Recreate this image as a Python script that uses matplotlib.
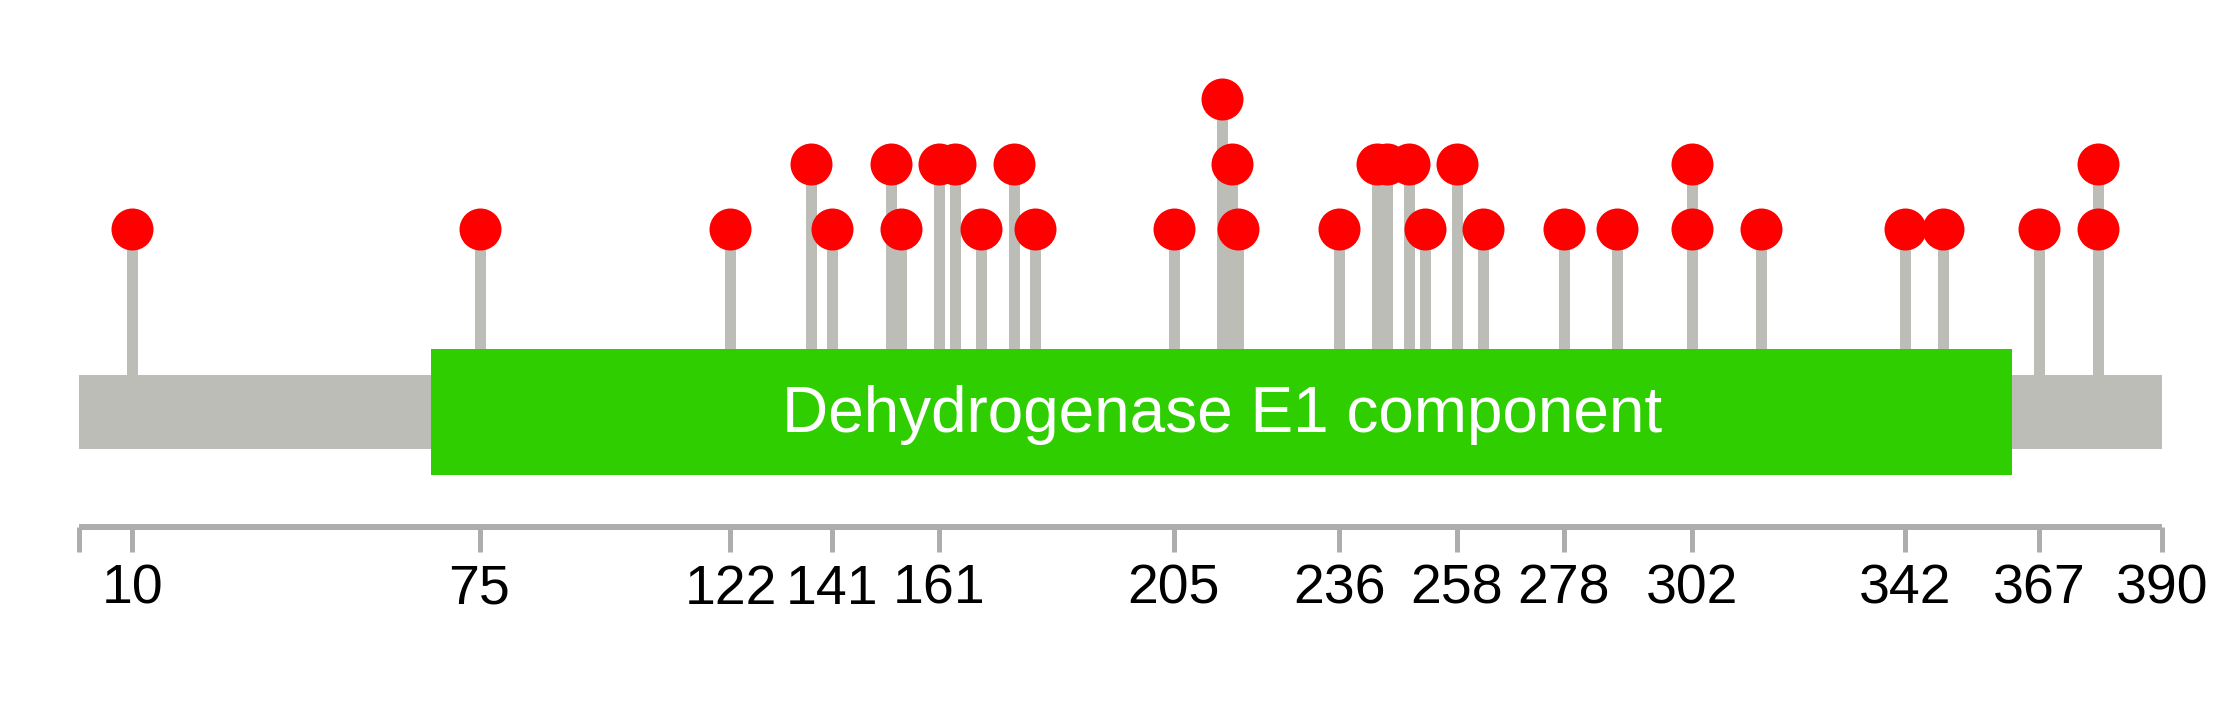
import matplotlib
matplotlib.use("Agg")
import matplotlib.pyplot as plt
from matplotlib.patches import Rectangle

# protein / domain
protein_length = 390
domain_name = "Dehydrogenase E1 component"
domain_start = 66
domain_end = 362

# mutations: position and count (repeated positions = separate lollipops)
mut_positions = [10, 75, 122, 137, 141, 152, 154, 161, 164, 169, 175, 179,
                 205, 214, 216, 217, 236, 243, 245, 249, 252, 258, 263, 278,
                 288, 302, 302, 315, 342, 349, 367, 378, 378]
mut_counts = [1, 1, 1, 2, 1, 2, 1, 2, 2, 1, 2, 1,
              1, 3, 2, 1, 1, 2, 2, 2, 1, 2, 1, 1,
              1, 2, 1, 1, 1, 1, 1, 2, 1]

tick_positions = [0, 10, 75, 122, 141, 161, 205, 236, 258, 278, 302, 342, 367, 390]
tick_labels = ["", "10", "75", "122", "141", "161", "205", "236", "258", "278",
               "302", "342", "367", "390"]

# styling / layout (figure pixel units on y)
W, H, DPI = 2239, 708, 100
PX = 72.0 / DPI
x0_px, px_per_aa = 79.0, 5.34
stem_color = "#BBBDB6"
backbone_color = "#BBBDB6"
domain_color = "#2ECE00"
dot_color = "#FF0000"
axis_color = "#ADADAD"

base_y, level_step = 294.3, 65.0
backbone_top, backbone_bot = 375.0, 448.5
domain_top, domain_bot = 349.0, 475.0
axis_y, tick_bot = 527.0, 552.0
label_baseline = 604.0


def level_y(c):
    return base_y - level_step * c


fig = plt.figure(figsize=(W / DPI, H / DPI), dpi=DPI)
ax = fig.add_axes([0, 0, 1, 1])
ax.set_xlim(-x0_px / px_per_aa, (W - x0_px) / px_per_aa)
ax.set_ylim(H, 0)
ax.axis("off")

# stems
for pos, cnt in zip(mut_positions, mut_counts):
    ax.plot([pos, pos], [backbone_top, level_y(cnt)], color=stem_color,
            lw=11 * PX, solid_capstyle="butt", zorder=1)

# backbone and domain
ax.add_patch(Rectangle((0, backbone_top), protein_length, backbone_bot - backbone_top,
                       facecolor=backbone_color, edgecolor="none", zorder=2))
ax.add_patch(Rectangle((domain_start, domain_top), domain_end - domain_start,
                       domain_bot - domain_top, facecolor=domain_color,
                       edgecolor="none", zorder=3))
ax.text((domain_start + domain_end) / 2, 432, domain_name, color="white",
        fontsize=46, family="Liberation Sans", ha="center", va="baseline", zorder=4)

# dots
ax.plot(mut_positions, [level_y(c) for c in mut_counts], "o", color=dot_color,
        markersize=42 * PX, markeredgewidth=0, zorder=5)

# position axis
ax.plot([0, protein_length], [axis_y, axis_y], color=axis_color, lw=6 * PX,
        solid_capstyle="butt", zorder=1)
for pos, lab in zip(tick_positions, tick_labels):
    ax.plot([pos, pos], [axis_y, tick_bot], color=axis_color, lw=5 * PX,
            solid_capstyle="butt", zorder=1)
    if lab:
        ax.text(pos, label_baseline, lab, fontsize=40, family="Liberation Sans",
                ha="center", va="baseline", color="black")

fig.savefig("out.png", dpi=DPI)
